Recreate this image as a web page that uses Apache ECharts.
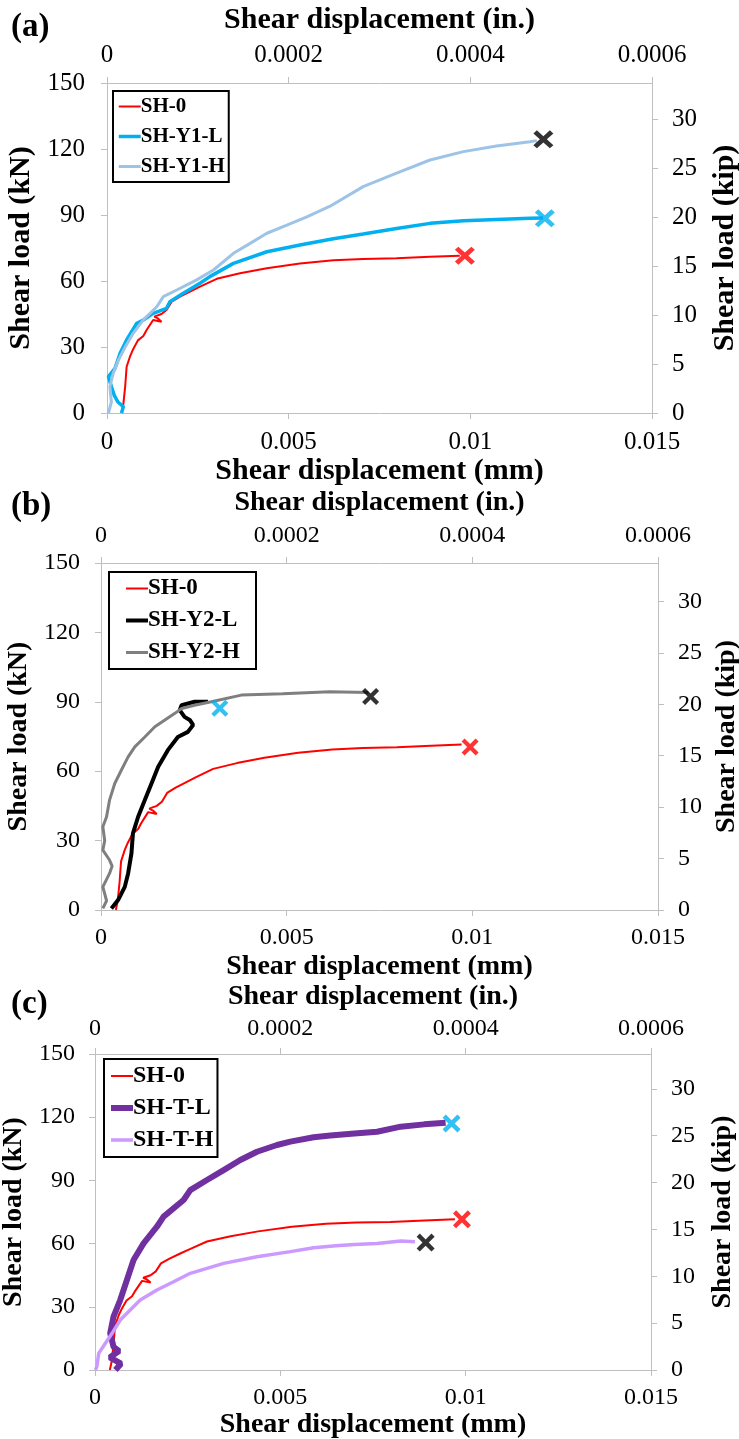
<!DOCTYPE html>
<html>
<head>
<meta charset="utf-8">
<script src="https://cdn.jsdelivr.net/npm/echarts@6/dist/echarts.min.js"></script>
<style>
    html, body { margin: 0; padding: 0; background: #fff; }
    #chartShear { width: 739px; height: 1439px; }
</style>
</head>
<body>
<div id="chartShear"></div>
<script>
// tick labels
var mmTicks = [0, 0.005, 0.01, 0.015];
var inTicks = [0, 0.0002, 0.0004, 0.0006];
var kNTicks = [0, 30, 60, 90, 120, 150];
var kipTicks = [0, 5, 10, 15, 20, 25, 30];

// series: [shear displacement (mm), shear load (kN)]
var sh0 = [[0.0004,0],[0.00045,4],[0.0005,12],[0.00054,21],[0.00064,26],[0.00072,29],[0.00085,33],[0.001,35],
    [0.00109,37.7],[0.00127,42.3],[0.0015,41.5],[0.0014,43],[0.0013,43.8],[0.0015,45],[0.00164,46.8],
    [0.00178,50.6],[0.00201,52.9],[0.0023,55.3],[0.00256,57.4],[0.00302,61],[0.00366,63.5],[0.0044,65.8],
    [0.00531,68],[0.00623,69.4],[0.00705,70],[0.00797,70.3],[0.00889,71],[0.00971,71.5]];

var shY1L = [[0.0004,0],[0.00045,2.9],[0.0003,5],[0.0002,8],[0.00012,12],[0.00004,16.5],[0.00022,20.3],
    [0.00036,27.1],[0.00054,33.2],[0.00082,40.8],[0.001,42.3],[0.00127,45.3],[0.00164,47.6],[0.00173,50.6],
    [0.0021,54.4],[0.00256,59],[0.00283,62],[0.00348,68],[0.0044,73.3],[0.00531,76.4],[0.00623,79.2],
    [0.00705,81.4],[0.00797,83.9],[0.00889,86.2],[0.00981,87.4],[0.01072,88],[0.01164,88.5],[0.012,88.6]];

var shY1H = [[0.00004,0],[0.00012,5],[0.00008,12],[0.00017,18],[0.00031,24],[0.0005,30],[0.00072,36.2],
    [0.001,42.3],[0.00137,48.3],[0.00155,52.9],[0.00192,55.9],[0.00247,60.5],[0.00293,65],[0.00348,72.6],
    [0.00394,77.1],[0.0044,81.7],[0.00495,85.4],[0.0055,89.2],[0.00614,94],[0.00705,102.9],[0.00797,109],
    [0.00889,115],[0.00981,118.8],[0.01072,121.4],[0.01164,123.3],[0.01183,123.8]];

var shY2L = [[0.00028,0.7],[0.00046,4.3],[0.00064,10],[0.00073,15.8],[0.00082,24.5],[0.00086,33.1],[0.001,40.3],
    [0.00118,47.5],[0.00136,54.7],[0.00154,61.9],[0.0018,69.1],[0.00207,74.8],[0.00234,77],[0.00248,80],
    [0.0024,82],[0.00225,83.5],[0.00212,86.4],[0.00217,88.5],[0.00252,90],[0.00288,90]];

var shY2H = [[0.00005,0.7],[0.00015,4],[0.00005,10],[0.00023,15.8],[0.0003,19],[0.00023,21.6],[0.00005,25.9],
    [0.0001,30],[0.00005,36],[0.00015,40.3],[0.00023,47.5],[0.00037,54.7],[0.00055,60.5],[0.00073,66.2],
    [0.00091,70.5],[0.00118,74.8],[0.00145,79.2],[0.00172,82.1],[0.00199,85],[0.00217,87.1],[0.00252,88.5],
    [0.00297,90],[0.00378,92.9],[0.00489,93.5],[0.00616,94.3],[0.0072,94]];

var shTL = [[0.00055,0],[0.0007,3],[0.0004,6],[0.00065,9],[0.0005,11],[0.00041,17.4],[0.0005,25.3],
    [0.00068,33.2],[0.00086,42.7],[0.00104,52.2],[0.00131,60.1],[0.00167,68],[0.00185,72.8],[0.00239,80.7],
    [0.00257,85.4],[0.00302,90.2],[0.00347,94.9],[0.00392,99.7],[0.00437,103.6],[0.00491,106.8],
    [0.00527,108.4],[0.0059,110.5],[0.00635,111.3],[0.007,112.3],[0.00761,113.1],[0.00825,115.5],
    [0.00888,116.6],[0.00946,117.4]];

var shTH = [[0.00001,0],[0.00005,1.6],[0.0001,7.9],[0.00028,12.7],[0.00046,17.4],[0.00068,23.7],[0.00095,28.5],
    [0.00122,33.2],[0.00167,38],[0.00212,41.9],[0.00257,45.9],[0.00347,50.6],[0.00437,53.8],[0.00527,56.2],
    [0.0059,58],[0.0065,59],[0.007,59.6],[0.00761,60.1],[0.00825,61.2],[0.00863,60.9]];

// failure points (x markers): red, cyan, black
var endA = [[0.00985, 71.5], [0.01205, 88.5], [0.01201, 124.4]];
var endB = [[0.00994, 70.5], [0.0032, 87.2], [0.00726, 92.3]];
var endC = [[0.0099, 71.5], [0.00962, 117], [0.00892, 60.5]];

var chartShear = {
    font: "'Liberation Serif', 'Times New Roman', serif",
    cross: 'path://M0,3.5 L3.5,0 L10,6.5 L16.5,0 L20,3.5 L13.5,10 L20,16.5 L16.5,20 L10,13.5 L3.5,20 L0,16.5 L6.5,10 Z',
    endColors: ['#ff0000', '#00b0f0', '#000000'],

    init: function () {
        var myChart = echarts.init(document.getElementById('chartShear'));
        myChart.setOption(this.option(), true);
    },

    fmt: function (v) {
        return String(+(+v).toPrecision(6));
    },

    axis: function (p) {
        var self = this;
        return {
            type: 'value',
            gridIndex: p.grid,
            position: p.position,
            min: 0,
            max: p.max,
            name: p.name,
            nameLocation: 'middle',
            nameGap: p.nameGap,
            nameTextStyle: {
                fontFamily: self.font,
                fontSize: p.titleFont,
                fontWeight: 'bold',
                color: '#000',
            },
            axisLine: {
                show: true,
                onZero: false,
                lineStyle: { color: '#bfbfbf', width: 1 }
            },
            axisTick: {
                show: true,
                length: 6,
                customValues: p.ticks,
                lineStyle: { color: '#bfbfbf' }
            },
            axisLabel: {
                customValues: p.ticks,
                margin: p.margin,
                fontFamily: self.font,
                fontSize: p.tickFont,
                color: '#000',
                formatter: function (v) { return self.fmt(v); }
            },
            splitLine: { show: false },
        };
    },

    option: function () {
        var self = this;
        var panels = [
            { label: '(a)', labelTop: 11, grid: { left: 107, top: 83, width: 545, height: 330 },
              names: ['SH-0', 'SH-Y1-L', 'SH-Y1-H'], data: [sh0, shY1L, shY1H],
              colors: ['#ff0000', '#00b0f0', '#9dc3e6'], widths: [2, 3.5, 3],
              ends: endA, endSize: [20, 18],
              titleFont: 30, tickFont: 25, legendFont: 21,
              legend: { left: 113, top: 91, padding: [5, 4, 5, 4], itemGap: 9 },
              gaps: { bottom: 40, top: 48, left: 64, right: 58 },
              margins: { bottom: 17, top: 15, left: 22, right: 20 } },
            { label: '(b)', labelTop: 490, grid: { left: 101, top: 563, width: 557, height: 347 },
              names: ['SH-0', 'SH-Y2-L', 'SH-Y2-H'], data: [sh0, shY2L, shY2H],
              colors: ['#ff0000', '#000000', '#7f7f7f'], widths: [2, 4, 3],
              ends: endB, endSize: [17, 17],
              titleFont: 28, tickFont: 24, legendFont: 23,
              legend: { left: 109, top: 572, padding: [5, 16, 5, 15], itemGap: 9 },
              gaps: { bottom: 43, top: 46, left: 63, right: 51 },
              margins: { bottom: 16, top: 15, left: 21, right: 20 } },
            { label: '(c)', labelTop: 988, grid: { left: 95, top: 1054, width: 556, height: 316 },
              names: ['SH-0', 'SH-T-L', 'SH-T-H'], data: [sh0, shTL, shTH],
              colors: ['#ff0000', '#7030a0', '#cc99ff'], widths: [2, 6, 3.5],
              ends: endC, endSize: [18, 18],
              titleFont: 28, tickFont: 24, legendFont: 24,
              legend: { left: 104, top: 1059, padding: [5, 4, 5, 4], itemGap: 8 },
              gaps: { bottom: 39, top: 43, left: 57, right: 58 },
              margins: { bottom: 16, top: 13, left: 20, right: 20 } },
        ];

        var opt = {
            animation: false,
            backgroundColor: '#fff',
            grid: [], xAxis: [], yAxis: [], legend: [], series: [], graphic: [],
        };

        panels.forEach(function (p, i) {
            var g = p.grid;
            opt.grid.push({ left: g.left, top: g.top, width: g.width, height: g.height,
                outerBoundsMode: 'none', containLabel: false });

            var fonts = { titleFont: p.titleFont, tickFont: p.tickFont };
            opt.xAxis.push(self.axis(Object.assign({ grid: i, position: 'bottom', max: 0.015, ticks: mmTicks,
                name: 'Shear displacement (mm)', nameGap: p.gaps.bottom, margin: p.margins.bottom }, fonts)));
            opt.xAxis.push(self.axis(Object.assign({ grid: i, position: 'top', max: 0.0006, ticks: inTicks,
                name: 'Shear displacement (in.)', nameGap: p.gaps.top, margin: p.margins.top }, fonts)));
            opt.yAxis.push(self.axis(Object.assign({ grid: i, position: 'left', max: 150, ticks: kNTicks,
                name: 'Shear load (kN)', nameGap: p.gaps.left, margin: p.margins.left }, fonts)));
            opt.yAxis.push(self.axis(Object.assign({ grid: i, position: 'right', max: 150 / 4.448, ticks: kipTicks,
                name: 'Shear load (kip)', nameGap: p.gaps.right, margin: p.margins.right }, fonts)));

            p.names.forEach(function (name, k) {
                opt.series.push({
                    name: name,
                    type: 'line',
                    xAxisIndex: 2 * i,
                    yAxisIndex: 2 * i,
                    data: p.data[k],
                    symbol: 'none',
                    showSymbol: false,
                    lineStyle: { color: p.colors[k], width: p.widths[k] },
                    itemStyle: { color: p.colors[k] },
                    z: 2 + k,
                });
            });

            opt.series.push({
                type: 'scatter',
                xAxisIndex: 2 * i,
                yAxisIndex: 2 * i,
                symbol: self.cross,
                symbolSize: p.endSize,
                z: 10,
                data: p.ends.map(function (d, k) {
                    return { value: d, itemStyle: { color: self.endColors[k] } };
                }),
            });

            opt.legend.push({
                orient: 'vertical',
                left: p.legend.left,
                top: p.legend.top,
                padding: p.legend.padding,
                itemGap: p.legend.itemGap,
                itemWidth: 22,
                itemHeight: 14,
                borderColor: '#000',
                borderWidth: 2,
                backgroundColor: '#fff',
                selectedMode: false,
                itemStyle: { opacity: 0 },
                data: p.names.map(function (name, k) {
                    return { name: name, lineStyle: { color: p.colors[k], width: p.widths[k] } };
                }),
                textStyle: {
                    fontFamily: self.font,
                    fontSize: p.legendFont,
                    fontWeight: 'bold',
                    color: '#000',
                    padding: [0, 0, 0, -5],
                },
            });

            opt.graphic.push({
                type: 'text',
                left: 11,
                top: p.labelTop,
                style: {
                    text: p.label,
                    font: "bold 33px 'Liberation Serif', serif",
                    fill: '#000',
                },
            });
        });
        return opt;
    }, // option
};

chartShear.init();
</script>
</body>
</html>
